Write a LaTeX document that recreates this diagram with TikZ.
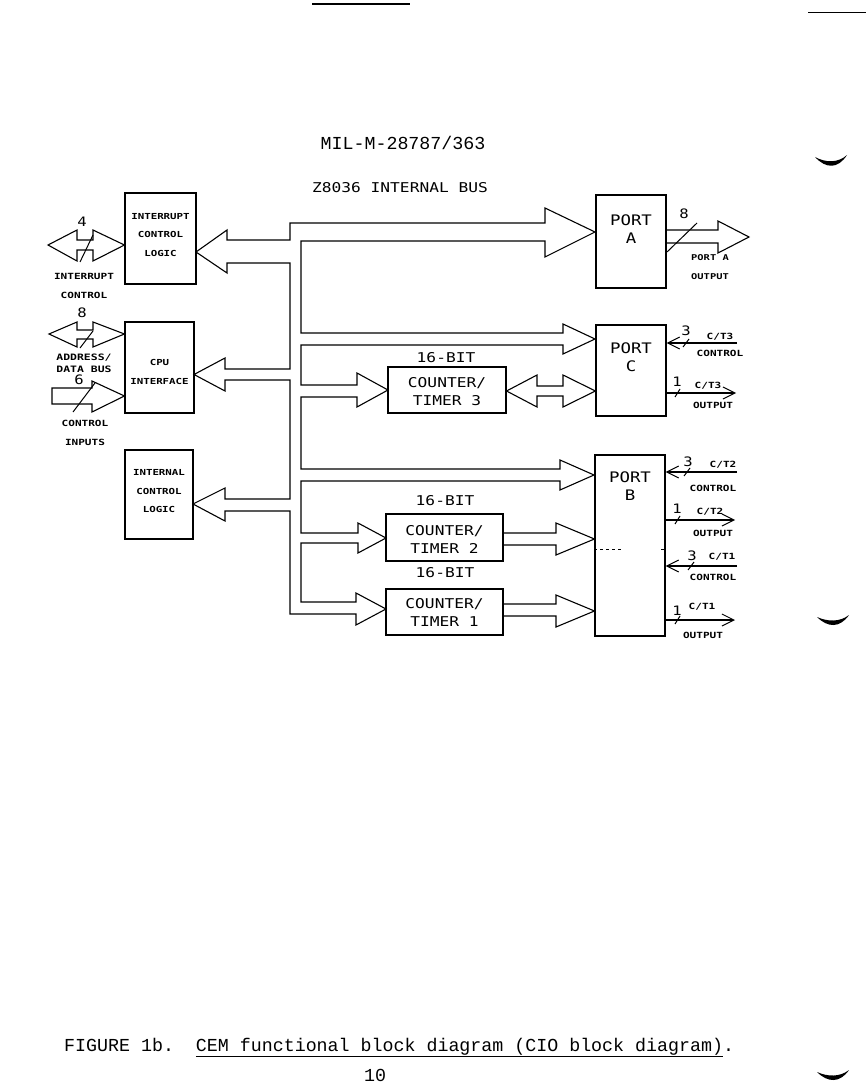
\documentclass[tikz,border=0pt]{standalone}
\usepackage{fontspec}
\usetikzlibrary{arrows.meta}
\newfontfamily\plotfont[FakeStretch=1.2]{DejaVu Sans Mono}
\newfontfamily\labfont[FakeStretch=1.3]{DejaVu Sans Mono}
\newfontfamily\typefont{Liberation Mono}
\tikzset{
  ln/.style={line width=1.1pt, line join=miter},
  box/.style={draw, line width=1.1pt, inner sep=0pt},
  big/.style={font=\plotfont\fontsize{13.5}{18}\selectfont, inner sep=0pt, align=center},
  sm/.style={font=\labfont\bfseries\fontsize{8.3}{18.5}\selectfont, inner sep=0pt, align=center},
  smb/.style={font=\labfont\bfseries\fontsize{8.5}{19}\selectfont, inner sep=0pt, align=center},
  num/.style={font=\plotfont\fontsize{13}{12}\selectfont, inner sep=0pt},
  sig/.style={line width=1.1pt, -{Straight Barb[length=12pt,width=12pt,line width=1pt]}},
  tw/.style={font=\typefont\fontsize{18.3}{20}\selectfont, inner sep=0pt},
}
\begin{document}
\begin{tikzpicture}[x=1pt,y=-1pt]
\path[use as bounding box] (0,0) rectangle (867,1083);

% scan artefacts at the page edges
\draw[line width=1.5pt] (312,4) -- (410,4);
\draw[line width=0.8pt] (808,12) -- (866,12);
\fill (815,157) .. controls (826,169) and (838,169) .. (847,155) .. controls (838,163) and (826,163) .. cycle;
\fill (817,617) .. controls (828,628) and (840,628) .. (849,615) .. controls (840,622) and (828,622) .. cycle;
\fill (817,1072) .. controls (828,1083) and (840,1083) .. (849,1070) .. controls (840,1077) and (828,1077) .. cycle;

% headings
\node[tw] (hdr) at (403,143) {MIL-M-28787/363};
\node[big] (busname) at (400,188) {Z8036 INTERNAL BUS};

% left blocks
\node[box, minimum width=71pt, minimum height=91pt] (icl) at (160.5,238.5) {};
\node[sm] (iclt) at (160.5,235) {INTERRUPT\\CONTROL\\LOGIC};
\node[box, minimum width=69pt, minimum height=91pt] (cpu) at (159.5,367.5) {};
\node[sm, font=\labfont\bfseries\fontsize{8.3}{19}\selectfont] (cput) at (159.5,371.5) {CPU\\INTERFACE};
\node[box, minimum width=68pt, minimum height=89pt] (intl) at (159,494.5) {};
\node[sm] (intlt) at (159,491.5) {INTERNAL\\CONTROL\\LOGIC};

% ports
\node[box, minimum width=70pt, minimum height=93pt] (porta) at (631,241.5) {};
\node[big, font=\plotfont\fontsize{14.5}{18}\selectfont] (portat) at (631,229) {PORT\\A};
\node[box, minimum width=70pt, minimum height=91pt] (portc) at (631,370.5) {};
\node[big, font=\plotfont\fontsize{14.5}{18}\selectfont] (portct) at (631,357.5) {PORT\\C};
\node[box, minimum width=70pt, minimum height=181pt] (portb) at (630,545.5) {};
\node[big, font=\plotfont\fontsize{14.5}{18}\selectfont] (portbt) at (630,486) {PORT\\B};
\draw[line width=0.8pt, dash pattern=on 3pt off 3pt] (portb.west |- 0,549) -- (624,549);
\draw[line width=0.8pt] (661,549) -- (portb.east |- 0,549);

% counter/timers
\node[box, minimum width=118pt, minimum height=46pt] (ct3) at (447,390) {};
\node[big] (ct3t) at (447,392) {COUNTER/\\TIMER 3};
\node[big] (ct3b) at (446,358) {16-BIT};
\node[box, minimum width=117pt, minimum height=47pt] (ct2) at (444.5,537.5) {};
\node[big] (ct2t) at (444.5,539) {COUNTER/\\TIMER 2};
\node[big] (ct2b) at (445,501) {16-BIT};
\node[box, minimum width=117pt, minimum height=46pt] (ct1) at (444.5,612) {};
\node[big] (ct1t) at (444.5,612.5) {COUNTER/\\TIMER 1};
\node[big] (ct1b) at (445,573) {16-BIT};

% internal bus (one hollow outline)
\draw[ln] (227,240) -- (290,240) -- (290,223) -- (545,223) -- (545,208) -- (595,232) -- (545,257) -- (545,241)
  -- (301,241) -- (301,333) -- (563,333) -- (563,324) -- (595,339) -- (563,354) -- (563,345)
  -- (301,345) -- (301,385) -- (357,385) -- (357,373) -- (388,390) -- (357,407) -- (357,397)
  -- (301,397) -- (301,469) -- (560,469) -- (560,460) -- (594,475) -- (560,490) -- (560,481)
  -- (301,481) -- (301,533) -- (358,533) -- (358,523) -- (386,538) -- (358,553) -- (358,543)
  -- (301,543) -- (301,602) -- (356,602) -- (356,593) -- (386,609) -- (356,625) -- (356,614)
  -- (290,614) -- (290,511) -- (225,511) -- (225,521) -- (193,504) -- (225,488) -- (225,499)
  -- (290,499) -- (290,380) -- (225,380) -- (225,391) -- (194,374.5) -- (225,358) -- (225,369)
  -- (290,369) -- (290,263) -- (227,263) -- (227,273) -- (196,252) -- (227,230) -- cycle;

% counter/timer 3 <-> port C
\draw[ln] (ct3.east |- 0,391) -- (537,375) -- (537,386) -- (563,386) -- (563,375) -- (portc.west |- 0,391)
  -- (563,407) -- (563,396) -- (537,396) -- (537,407) -- cycle;
% counter/timer 2 -> port B
\draw[ln] (ct2.east |- 0,533) -- (556,533) -- (556,523) -- (portb.west |- 0,539) -- (556,555) -- (556,545) -- (ct2.east |- 0,545);
% counter/timer 1 -> port B
\draw[ln] (ct1.east |- 0,604) -- (556,604) -- (556,595) -- (portb.west |- 0,611) -- (556,627) -- (556,616) -- (ct1.east |- 0,616);

% port A output
\draw[ln] (porta.east |- 0,230) -- (718,230) -- (718,221) -- (749,237) -- (718,253) -- (718,243) -- (porta.east |- 0,243);
\draw[line width=1pt] (667,252) -- (697,223);
\node[num] (n8a) at (684,214) {8};
\node[smb, font=\labfont\bfseries\fontsize{8}{19}\selectfont] (paout) at (710,267.5) {PORT A\\OUTPUT};

% left side interfaces
\draw[ln] (48,245) -- (77,230) -- (77,240) -- (93,240) -- (93,230) -- (icl.west |- 0,245) -- (93,261) -- (93,250) -- (77,250) -- (77,261) -- cycle;
\draw[line width=1pt] (80,262) -- (93,235);
\node[num] (n4) at (82,222) {4};
\node[smb] (intc) at (84,285.5) {INTERRUPT\\CONTROL};

\draw[ln] (49,334) -- (77,322) -- (77,330) -- (93,330) -- (93,322) -- (cpu.west |- 0,334) -- (93,347) -- (93,339) -- (77,339) -- (77,347) -- cycle;
\draw[line width=1pt] (80,348) -- (93,331);
\node[num] (n8b) at (82,313) {8};
\node[smb, font=\labfont\bfseries\fontsize{8.8}{12}\selectfont] (adb) at (84,363) {ADDRESS/\\DATA BUS};

\draw[ln] (52,388) -- (92,388) -- (92,381) -- (cpu.west |- 0,396) -- (92,412) -- (92,404) -- (52,404) -- cycle;
\draw[line width=1pt] (73,412) -- (95,383);
\node[num] (n6) at (79,380) {6};
\node[smb] (ctin) at (85,432.5) {CONTROL\\INPUTS};

% port C signals
\draw[sig] (737,343) -- (portc.east |- 0,343);
\draw[line width=1pt] (683,347) -- (689,339);
\node[num] (n3c) at (686,331) {3};
\node[smb] (ct3c) at (720,337) {C/T3};
\node[smb] (ct3cl) at (720,353) {CONTROL};
\draw[sig] (portc.east |- 0,393) -- (736,393);
\draw[line width=1pt] (675,397) -- (680,389);
\node[num] (n1c) at (677,382) {1};
\node[smb] (ct3o) at (708,386) {C/T3};
\node[smb] (ct3ol) at (713,405) {OUTPUT};

% port B signals
\draw[sig] (737,472) -- (portb.east |- 0,472);
\draw[line width=1pt] (684,476) -- (690,468);
\node[num] (n3b2) at (688,462) {3};
\node[smb] (ct2c) at (723,465) {C/T2};
\node[smb] (ct2cl) at (713,488) {CONTROL};
\draw[sig] (portb.east |- 0,520) -- (735,520);
\draw[line width=1pt] (675,524) -- (680,516);
\node[num] (n1b2) at (677,509) {1};
\node[smb] (ct2o) at (710,512) {C/T2};
\node[smb] (ct2ol) at (713,533) {OUTPUT};
\draw[sig] (737,566) -- (portb.east |- 0,566);
\draw[line width=1pt] (688,570) -- (694,562);
\node[num] (n3b1) at (692,556) {3};
\node[smb] (ct1c) at (722,557) {C/T1};
\node[smb] (ct1cl) at (713,577) {CONTROL};
\draw[sig] (portb.east |- 0,620) -- (735,620);
\draw[line width=1pt] (675,624) -- (680,616);
\node[num] (n1b1) at (677,611) {1};
\node[smb] (ct1o) at (702,607) {C/T1};
\node[smb] (ct1ol) at (703,635) {OUTPUT};

% caption
\node[tw, anchor=base west] (cap) at (64,1051) {FIGURE 1b.\ \ \underline{CEM functional block diagram (CIO block diagram)}.};
\node[tw] (pg) at (375,1075) {10};
\end{tikzpicture}
\end{document}
